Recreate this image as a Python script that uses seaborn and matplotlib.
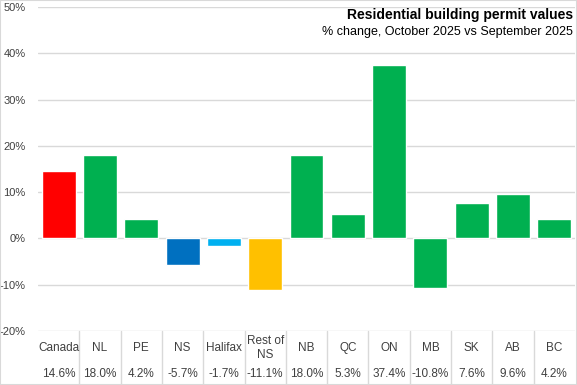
import matplotlib
matplotlib.use("Agg")
import matplotlib.pyplot as plt
import matplotlib.transforms as mtransforms
from matplotlib.lines import Line2D
from matplotlib.patches import Rectangle
import seaborn as sns
import pandas as pd

categories = ["Canada", "NL", "PE", "NS", "Halifax", "Rest of\nNS", "NB", "QC", "ON", "MB", "SK", "AB", "BC"]
values = [14.6, 18.0, 4.2, -5.7, -1.7, -11.1, 18.0, 5.3, 37.4, -10.8, 7.6, 9.6, 4.2]
value_labels = ["14.6%", "18.0%", "4.2%", "-5.7%", "-1.7%", "-11.1%", "18.0%", "5.3%", "37.4%", "-10.8%", "7.6%", "9.6%", "4.2%"]
bar_colors = ["#FF0000", "#00B050", "#00B050", "#0070C0", "#00B0F0", "#FFC000", "#00B050",
              "#00B050", "#00B050", "#00B050", "#00B050", "#00B050", "#00B050"]
y_ticks = [-20, -10, 0, 10, 20, 30, 40, 50]
y_tick_labels = ["-20%", "-10%", "0%", "10%", "20%", "30%", "40%", "50%"]
title = "Residential building permit values"
subtitle = "% change, October 2025 vs September 2025"

sns.set_style("white")
plt.rcParams['font.family'] = ['Liberation Sans', 'DejaVu Sans']

W, H = 577, 385
fig = plt.figure(figsize=(W / 100, H / 100), dpi=100)
ax = fig.add_axes([38 / W, 1 - 331 / H, (575 - 38) / W, (331 - 7) / H])

df = pd.DataFrame({"cat": categories, "val": values})
sns.barplot(data=df, x="cat", y="val", hue="cat", palette=bar_colors, legend=False,
            width=0.82, saturation=1, ax=ax, zorder=3)

ax.set_xlim(-0.5, len(categories) - 0.5)
ax.set_ylim(-20, 50)
ax.set_yticks(y_ticks)
ax.set_yticklabels(y_tick_labels, fontsize=8, color="#404040")
ax.tick_params(axis="y", length=0, pad=9)
ax.set_xticks([])
ax.set_xlabel("")
ax.set_ylabel("")
for s in ax.spines.values():
    s.set_visible(False)
ax.yaxis.grid(True, color="#D9D9D9", linewidth=1, zorder=0)
ax.set_axisbelow(True)

# table below
trans = mtransforms.blended_transform_factory(ax.transData, fig.transFigure)
for i, (c, v) in enumerate(zip(categories, value_labels)):
    ax.text(i, 1 - 348 / H, c, transform=trans, ha="center", va="center",
            fontsize=8.5, color="#404040", linespacing=1.3)
    ax.text(i, 1 - 374 / H, v, transform=trans, ha="center", va="center",
            fontsize=8.5, color="#404040")
for i in range(len(categories) - 1):
    ax.add_line(Line2D([i + 0.5, i + 0.5], [1 - 331 / H, 0], transform=trans,
                       color="#D9D9D9", linewidth=1, clip_on=False))

# titles
fig.text(573 / W, 1 - 15 / H, title, ha="right", va="center", fontsize=10,
         fontweight="bold", color="#000000")
fig.text(573 / W, 1 - 32 / H, subtitle, ha="right", va="center", fontsize=9,
         color="#000000")

# figure border
fig.patches.append(Rectangle((0, 0), 1, 1, transform=fig.transFigure, fill=False,
                             edgecolor="#D9D9D9", linewidth=1.5))

fig.savefig("out.png", dpi=100)
